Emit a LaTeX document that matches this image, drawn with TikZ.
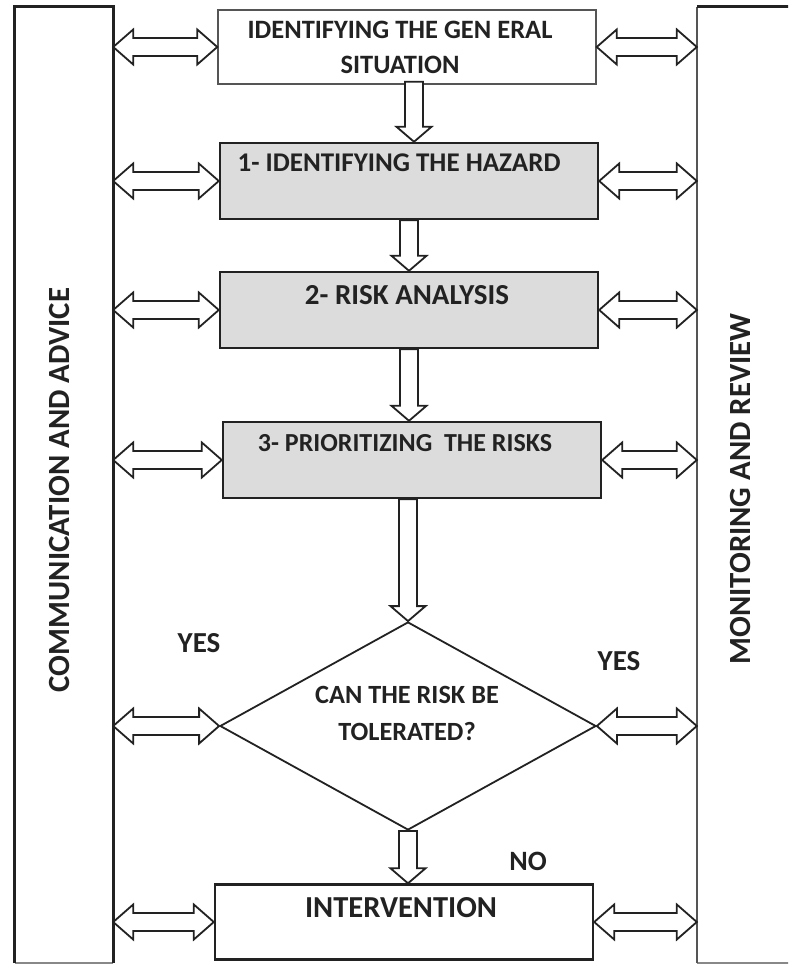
\documentclass[tikz,border=0pt]{standalone}
\usepackage{fontspec}
\setmainfont{Carlito}
\usetikzlibrary{calc,shapes.geometric}
\definecolor{boxgray}{HTML}{DCDCDC}
\definecolor{linedark}{HTML}{222222}
\definecolor{linemid}{HTML}{555555}
\definecolor{linelight}{HTML}{888888}
\tikzset{
  sarrow/.style={draw=linedark,line width=1.8pt,fill=white,line join=miter,
    to path={let \p1=(\tikztostart), \p2=(\tikztotarget),
      \n1={atan2(\y2-\y1,\x2-\x1)}, \n2={veclen(\x2-\x1,\y2-\y1)} in
      ([shift={(\p1)},rotate=\n1]0pt,9pt) --
      ([shift={(\p1)},rotate=\n1]{\n2*1pt-15pt},9pt) --
      ([shift={(\p1)},rotate=\n1]{\n2*1pt-15pt},17.5pt) --
      ([shift={(\p1)},rotate=\n1]{\n2*1pt},0pt) --
      ([shift={(\p1)},rotate=\n1]{\n2*1pt-15pt},-17.5pt) --
      ([shift={(\p1)},rotate=\n1]{\n2*1pt-15pt},-9pt) --
      ([shift={(\p1)},rotate=\n1]0pt,-9pt) -- cycle}},
  darrow/.style={draw=linedark,line width=1.8pt,fill=white,line join=miter,
    to path={let \p1=(\tikztostart), \p2=(\tikztotarget),
      \n1={atan2(\y2-\y1,\x2-\x1)}, \n2={veclen(\x2-\x1,\y2-\y1)} in
      ([shift={(\p1)},rotate=\n1]0pt,0pt) --
      ([shift={(\p1)},rotate=\n1]20pt,17.5pt) --
      ([shift={(\p1)},rotate=\n1]20pt,9pt) --
      ([shift={(\p1)},rotate=\n1]{\n2*1pt-20pt},9pt) --
      ([shift={(\p1)},rotate=\n1]{\n2*1pt-20pt},17.5pt) --
      ([shift={(\p1)},rotate=\n1]{\n2*1pt},0pt) --
      ([shift={(\p1)},rotate=\n1]{\n2*1pt-20pt},-17.5pt) --
      ([shift={(\p1)},rotate=\n1]{\n2*1pt-20pt},-9pt) --
      ([shift={(\p1)},rotate=\n1]20pt,-9pt) --
      ([shift={(\p1)},rotate=\n1]20pt,-17.5pt) -- cycle}},
  graybox/.style={draw=linedark,line width=2.4pt,fill=boxgray,minimum width=378pt,minimum height=76pt,inner sep=0pt},
  whitebox/.style={draw=linemid,line width=1.5pt,fill=white,minimum width=378pt,minimum height=74pt,inner sep=0pt},
  endbox/.style={draw=linedark,line width=2.4pt,fill=white,minimum width=378pt,minimum height=75pt,inner sep=0pt},
  txt/.style={font=\fontsize{26.5}{35}\selectfont\bfseries,text=linedark,align=center,inner sep=0pt},
  sidetxt/.style={font=\fontsize{30.8}{36}\selectfont\bfseries,text=linedark,rotate=90,inner sep=0pt},
  ynlabel/.style={font=\fontsize{29}{32}\selectfont\bfseries,text=linedark,inner sep=0pt}
}
\begin{document}
\begin{tikzpicture}[x=1pt,y=-1pt]
\useasboundingbox (0,0) rectangle (788,965);
\clip (0,0) rectangle (788,965);
\fill[white] (0,0) rectangle (788,965);
% side bars
\node[fill=white,minimum width=98pt,minimum height=956pt,inner sep=0pt] (left) at (64,485) {};
\draw[linelight,line width=1.5pt] (left.south west) -- (left.south east);
\draw[linedark,line width=3pt] (left.south west) -- (left.north west) -- (left.north east) -- (left.south east);
\node[fill=white,minimum width=100pt,minimum height=956pt,inner sep=0pt] (right) at (747,485) {};
\draw[linelight,line width=1.5pt] (right.south west) -- (right.south east);
\draw[linemid,line width=1.5pt] (right.south west) -- (right.north west);
\draw[linedark,line width=3pt] (right.north west) -- (right.north east);
\node[sidetxt] (ltxt) at (60,490) {COMMUNICATION AND ADVICE};
\node[sidetxt] (rtxt) at (740,489) {MONITORING AND REVIEW};
% boxes
\node[whitebox] (s0) at (407,47) {};
\node[txt] (t0) at (400,47) {IDENTIFYING THE GEN ERAL\\SITUATION};
\node[graybox] (s1) at (409,181) {};
\node[txt,font=\fontsize{27}{35}\selectfont\bfseries] (t1) at (399,163) {1- IDENTIFYING THE HAZARD};
\node[graybox] (s2) at (409,310) {};
\node[txt,font=\fontsize{29}{32}\selectfont\bfseries] (t2) at (407,295) {2- RISK ANALYSIS};
\node[graybox] (s3) at (412,460) {};
\node[txt,font=\fontsize{26}{35}\selectfont\bfseries] (t3) at (405,443) {3- PRIORITIZING~ THE RISKS};
\node[diamond,draw=linedark,line width=1.8pt,fill=white,minimum width=376pt,minimum height=208pt,inner sep=0pt] (d) at (408,726) {};
\node[txt,font=\fontsize{26.3}{35}\selectfont\bfseries] (td) at (407,713) {CAN THE RISK BE\\[2pt]TOLERATED?};
\node[endbox] (iv) at (404,922) {};
\node[txt,font=\fontsize{30.5}{35}\selectfont\bfseries] (tiv) at (401,908) {INTERVENTION};
% labels
\node[ynlabel] (y1) at (199,643) {YES};
\node[ynlabel] (y2) at (619,661) {YES};
\node[ynlabel,font=\fontsize{28}{32}\selectfont\bfseries] (n1) at (528,861) {NO};
% down arrows
\coordinate (a0) at ([xshift=7pt]s0.south);
\draw[sarrow] ([yshift=3pt]a0) to (a0 |- s1.north);
\draw[sarrow] (s1.south) to (s1.south |- s2.north);
\draw[sarrow] (s2.south) to (s2.south |- s3.north);
\draw[sarrow] (d.north |- s3.south) to (d.north);
\draw[sarrow] (d.south) to (d.south |- iv.north);
% double arrows
\foreach \bx in {s0,s1,s2,s3,d,iv}{
  \draw[darrow] (left.east |- \bx.west) to (\bx.west);
  \draw[darrow] (\bx.east) to (right.west |- \bx.east);
}
\end{tikzpicture}
\end{document}
